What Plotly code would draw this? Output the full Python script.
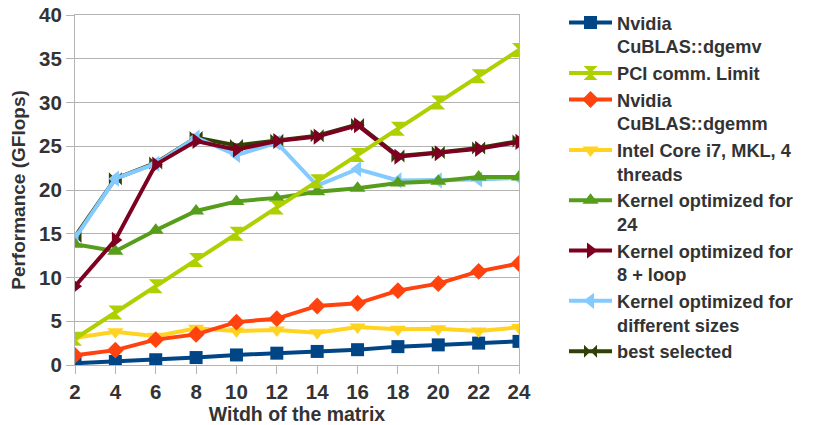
import plotly.graph_objects as go

widths = [2, 4, 6, 8, 10, 12, 14, 16, 18, 20, 22, 24]

cublas_dgemv = [0.2, 0.4, 0.6, 0.85, 1.15, 1.35, 1.55, 1.75, 2.1, 2.3, 2.5, 2.7]
pci_limit = [3, 6, 9, 12, 15, 18, 21, 24, 27, 30, 33, 36]
cublas_dgemm = [1.1, 1.7, 2.9, 3.5, 4.9, 5.3, 6.75, 7.05, 8.5, 9.3, 10.7, 11.6]
mkl_i7 = [3.1, 3.8, 3.3, 4.2, 3.9, 4.0, 3.7, 4.35, 4.1, 4.15, 3.9, 4.3]
kernel_24 = [13.8, 13.0, 15.4, 17.6, 18.7, 19.1, 19.8, 20.2, 20.8, 21.0, 21.5, 21.5]
kernel_8_loop = [9.0, 14.3, 22.9, 25.6, 24.6, 25.6, 26.1, 27.4, 23.8, 24.2, 24.7, 25.5]
kernel_sizes = [14.5, 21.3, 23.0, 26.0, 24.0, 25.4, 20.5, 22.4, 21.1, 21.1, 21.2, 21.4]
best_selected = [14.7, 21.3, 23.1, 26.0, 25.1, 25.7, 26.2, 27.5, 23.9, 24.3, 24.8, 25.6]

y_ticks = [0, 5, 10, 15, 20, 25, 30, 35, 40]

# (name, values, colour, symbol, marker size, legend rank) in drawing order
series = [
    ("best selected", best_selected, "#314004", "bowtie", 13, 8),
    ("Nvidia<br>CuBLAS::dgemv", cublas_dgemv, "#004586", "square", 13, 1),
    ("Intel Core i7, MKL, 4<br>threads", mkl_i7, "#ffd320", "triangle-down", 14, 4),
    ("Nvidia<br>CuBLAS::dgemm", cublas_dgemm, "#ff420e", "diamond", 13, 3),
    ("Kernel optimized for<br>different sizes", kernel_sizes, "#83caff", "triangle-left", 14, 7),
    ("Kernel optimized for<br>24", kernel_24, "#579d1c", "triangle-up", 14, 5),
    ("Kernel optimized for<br>8 + loop", kernel_8_loop, "#7e0021", "triangle-right", 14, 6),
    ("PCI comm. Limit", pci_limit, "#aecf00", "hourglass", 14, 2),
]

fig = go.Figure()
for name, vals, color, symbol, size, rank in series:
    fig.add_trace(go.Scatter(
        x=widths, y=vals, name=name, mode="lines+markers",
        line=dict(color=color, width=4),
        marker=dict(symbol=symbol, size=size, color=color, line=dict(width=0)),
        legendrank=rank,
    ))

font_family = "Liberation Sans, Arial, sans-serif"
text_color = "#333333"
grid_color = "#b3b3b3"

fig.update_layout(
    width=819, height=425,
    margin=dict(l=75, r=300, t=15, b=60, autoexpand=False),
    paper_bgcolor="white", plot_bgcolor="white",
    font=dict(family=font_family, color=text_color),
    showlegend=True,
    legend=dict(
        x=1.1014, xanchor="left", xref="paper",
        y=0.99, yanchor="top", yref="container",
        maxheight=425, valign="top",
        font=dict(size=18.2, family=font_family, color=text_color, weight="bold"),
        tracegroupgap=0, itemwidth=43, bgcolor="rgba(0,0,0,0)",
    ),
    xaxis=dict(
        range=[2, 24], tickvals=widths, ticktext=[str(w) for w in widths],
        showgrid=False, showline=True, linecolor=grid_color, linewidth=1, mirror=True,
        ticks="outside", ticklen=8, tickcolor=grid_color,
        tickfont=dict(size=20.5, weight="bold", color=text_color),
        title=dict(text="Witdh of the matrix", font=dict(size=19.5, weight="bold", color=text_color), standoff=4),
        zeroline=False,
    ),
    yaxis=dict(
        range=[0, 40], tickvals=y_ticks,
        showgrid=True, gridcolor=grid_color, gridwidth=1,
        showline=True, linecolor=grid_color, linewidth=1, mirror=True,
        ticks="outside", ticklen=8, tickcolor=grid_color,
        tickfont=dict(size=20.5, weight="bold", color=text_color),
        title=dict(text="Performance (GFlops)", font=dict(size=19, weight="bold", color=text_color), standoff=8),
        zeroline=False,
    ),
)

fig.write_html("out.html")
